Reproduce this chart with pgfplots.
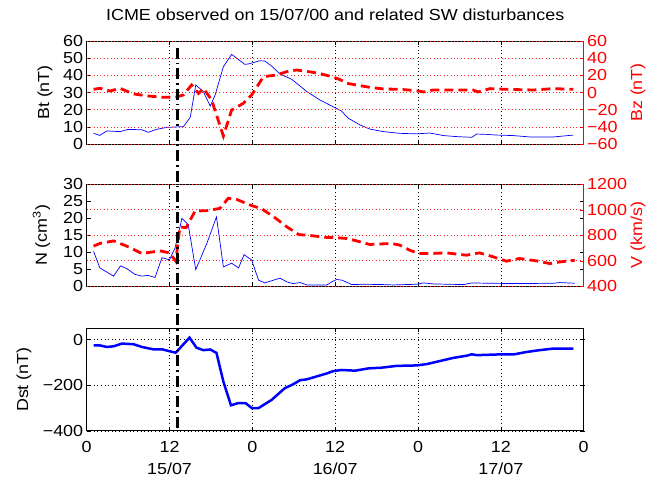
\documentclass[border=0pt]{standalone}
\usepackage{pgfplots}
\pgfplotsset{compat=1.18}
\usepackage{fontspec}
\setmainfont{Liberation Sans}[FakeStretch=1.12]

\definecolor{mblue}{rgb}{0,0,1}
\definecolor{mred}{rgb}{1,0,0}

\pgfplotsset{
  panel/.style={
    scale only axis, width=497pt,
    xmin=0, xmax=72, xtick={0,12,...,72},
    tick align=inside, major tick length=4pt,
    every tick/.style={black, line width=0.5pt},
    axis line style={line width=0.6pt},
    tick label style={font=\fontsize{16}{22}\selectfont},
    label style={font=\fontsize{16}{18}\selectfont},
    /pgf/number format/assume math mode=true,
    /pgf/number format/1000 sep={},
  },
  xgridd/.style={xmajorgrids,
    major x grid style={black, line width=0.5pt, dash pattern=on 0.6pt off 3pt}},
  rightax/.style={axis x line=none, axis y line*=right,
    axis line style={mred,-,line width=0.6pt},
    every tick/.style={mred, line width=0.5pt},
    yticklabel style={mred},
    ylabel style={mred, at={(axis description cs:1.109,0.5)}, anchor=center},
    ymajorgrids,
    major y grid style={mred!85, line width=0.6pt, dash pattern=on 0.8pt off 2.6pt}},
}

\begin{document}
\begin{tikzpicture}

% panel 1: Bt / Bz
\begin{axis}[panel, at={(0,0)}, anchor=north west, height=103pt,
  ymin=0, ymax=60, ytick={0,10,...,60}, ytick pos=both,
  xtick pos=both, xticklabels={}, xgridd,
  ylabel={Bt (nT)}, ylabel style={at={(axis description cs:-0.084,0.5)}, anchor=center},
  title={ICME observed on 15/07/00 and related SW disturbances},
  title style={at={(0.5,1)}, anchor=base, yshift=14.3pt, font=\fontsize{16}{18}\selectfont}]
\addplot[mblue, line width=0.7pt] coordinates {
(1.0,6.2)(1.9,5.0)(2.9,7.6)(4.8,7.2)(6.0,8.5)(8.0,8.3)(8.9,6.8)(10.1,8.5)(11.6,9.7)
(14.0,10.1)(15.0,15.5)(15.8,34.4)(16.9,30.5)(17.9,22.1)(18.6,28.5)(19.8,45)(21.0,52.2)
(22.9,46.4)(23.4,46.6)(25.1,48.5)(25.8,48.3)(26.8,45.4)(28.0,40.8)(29.7,37.7)(31.9,30.5)
(33.8,25.6)(35.7,21.7)(36.9,19.2)(37.9,15)(39.6,11.1)(41.0,8.7)(43.0,7.2)(45.4,6.2)
(47.8,5.9)(49.7,6.4)(51.7,4.9)(53.6,4.3)(55.8,3.9)(56.5,5.8)(57.9,5.6)(59.4,5.2)
(61.8,4.9)(64.2,4.1)(67.6,4.1)(70.5,5.2)};
\coordinate (vtop) at (axis cs:13.15,56);
\end{axis}
\begin{axis}[panel, rightax, at={(0,0)}, anchor=north west, height=103pt,
  ymin=-60, ymax=60, ytick={-60,-40,...,60},
  yticklabels={−60,−40,−20,0,20,40,60},
  ylabel={Bz (nT)}]
\addplot[mred, line width=2.8pt, dash pattern=on 9pt off 5pt] coordinates {
(1.0,3.7)(1.9,4.9)(3.4,1.7)(4.8,4.9)(6.8,-1.7)(8.9,-4.1)(11.1,-5.6)(13.0,-5.2)(14.0,-2.9)
(15.2,8.7)(16.2,-1)(16.9,4.9)(18.1,-8.7)(19.8,-50.7)(21.0,-20.4)(22.7,-12.6)(23.9,-2.9)
(25.6,18.4)(27.5,20.4)(29.0,24.3)(30.4,26.2)(32.8,23.5)(33.8,22)(35.7,18)(36.7,15)
(37.7,10.7)(41.0,6)(43.0,4.1)(45.4,3.7)(47.8,2.1)(48.8,0.6)(50.2,2.9)(53.1,2.9)(56.0,2.9)
(56.7,0.6)(58.4,4.5)(60.8,3.7)(64.7,2.9)(67.6,4.5)(70.5,3.7)};
\end{axis}

% panel 2: N / V
\begin{axis}[panel, at={(0,-143.3pt)}, anchor=north west, height=102pt,
  ymin=0, ymax=30, ytick={0,5,...,30}, ytick pos=both,
  xtick pos=both, xticklabels={}, xgridd,
  ylabel={N (cm\textsuperscript{3})}, ylabel style={at={(axis description cs:-0.091,0.5)}, anchor=center}]
\addplot[mblue, line width=0.7pt] coordinates {
(1.0,10.3)(1.9,5.4)(2.9,4.2)(3.9,3.0)(4.9,6.0)(5.8,5.2)(7.0,3.5)(8.0,3.0)(8.9,3.2)
(9.9,2.6)(10.9,8.4)(12.0,7.8)(12.8,11.3)(13.8,20.0)(14.7,18.2)(15.8,4.9)(17.4,12.6)
(18.8,20.4)(19.8,5.7)(21.0,6.8)(22.0,5.4)(22.8,9.3)(23.9,7.7)(24.9,1.8)(25.8,1.0)
(28.0,2.4)(29.0,1.3)(29.9,0.8)(30.9,1.1)(31.9,0.4)(34.8,0.4)(35.5,1.3)(36.2,2.0)
(37.0,1.8)(38.4,0.5)(40.1,0.6)(43.0,0.5)(44.4,0.4)(47.8,0.6)(48.8,1.0)(50.2,0.7)
(54.6,0.5)(55.8,1.0)(57.9,0.9)(62.7,0.8)(67.6,0.9)(68.5,1.1)(70.7,0.9)};
\end{axis}
\begin{axis}[panel, rightax, at={(0,-143.3pt)}, anchor=north west, height=102pt,
  ymin=400, ymax=1200, ytick={400,600,...,1200},
  ylabel={V (km/s)}]
\addplot[mred, line width=2.8pt, dash pattern=on 9pt off 5pt] coordinates {
(1.0,715)(1.9,736)(3.9,756)(5.8,715)(8.0,657)(10.6,678)(12.0,662)(12.9,597)(13.5,866)
(14.4,860)(15.7,990)(17.4,993)(19.3,1011)(20.5,1090)(21.7,1082)(23.7,1037)(25.4,1006)
(27.1,945)(29.0,866)(30.7,806)(32.4,798)(34.8,783)(35.7,783)(37.7,775)(39.1,756)
(41.0,728)(44.2,736)(45.4,722)(46.8,683)(48.1,657)(49.7,657)(52.1,662)(55.0,644)
(56.9,662)(58.9,631)(60.8,597)(62.7,618)(65.2,599)(67.1,578)(68.5,591)(70.7,604)};
\end{axis}

% panel 3: Dst
\begin{axis}[panel, at={(0,-287.3pt)}, anchor=north west, height=102.5pt,
  ymin=-400, ymax=50, ytick={-400,-200,0}, yticklabels={−400,−200,0},
  ytick pos=both, xtick pos=both,
  xticklabels={0,{12\\15/07},0,{12\\16/07},0,{12\\17/07},0},
  xticklabel style={align=center, yshift=-6.5pt},
  grid=major, major grid style={black, line width=0.5pt, dash pattern=on 0.6pt off 3pt},
  ylabel={Dst (nT)}, ylabel style={at={(axis description cs:-0.126,0.5)}, anchor=center}]
\addplot[mblue, line width=2.5pt] coordinates {
(1.0,-25)(1.9,-25)(2.9,-32)(3.9,-29)(5.1,-17)(6.8,-20)(8.0,-32)(9.6,-42)(10.9,-42)
(11.9,-50)(12.9,-57)(14.9,9)(15.9,-35)(16.9,-46)(17.9,-43)(18.8,-58)(19.8,-184)
(20.9,-288)(22.0,-278)(23.0,-278)(23.9,-300)(24.9,-300)(26.8,-264)(28.7,-213)
(29.9,-196)(30.9,-178)(31.9,-174)(33.8,-157)(34.8,-148)(35.7,-138)(36.9,-133)
(38.9,-136)(40.8,-126)(42.7,-123)(44.9,-115)(47.8,-113)(49.3,-107)(50.7,-97)
(53.1,-80)(55.1,-70)(55.8,-64)(56.5,-68)(59.4,-65)(61.8,-65)(63.7,-54)(65.6,-46)
(67.6,-39)(70.5,-39)};
\coordinate (vbot) at (axis cs:13.15,-400);
\end{axis}

\draw[black, line width=2.6pt, dash pattern=on 11pt off 4pt on 1.5pt off 4pt] (vtop) -- (vbot);

\pgfresetboundingbox
\path (-86.7pt,41pt) rectangle (566.3pt,-440pt);
\end{tikzpicture}
\end{document}
